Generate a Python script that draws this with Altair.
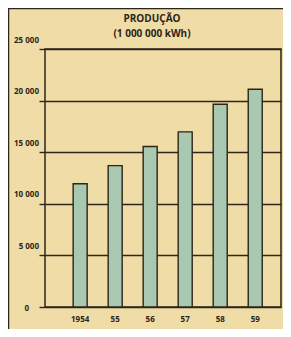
import altair as alt
import pandas as pd

years = ["1954", "55", "56", "57", "58", "59"]
production = [11950, 13700, 15550, 16970, 19650, 21100]
tick_values = [5000, 10000, 15000, 20000, 25000]
tick_texts = ["5 000", "10 000", "15 000", "20 000", "25 000"]
title_lines = ["PRODUÇÃO", "(1 000 000  kWh)"]

BG = "#f0dca6"
INK = "#2b2619"
BAR = "#a8c8b2"
FONT = "Open Sans"

df = pd.DataFrame({"ano": years, "valor": production})
ticks = pd.DataFrame({"v": tick_values, "t": tick_texts})

W, H = 236, 258

y_scale = alt.Scale(domain=[0, 25000], nice=False)
x_scale = alt.Scale(paddingInner=0.6, paddingOuter=0.67, align=0.6)

bars = alt.Chart(df).mark_bar(color=BAR, stroke=INK, strokeWidth=1.4).encode(
    x=alt.X("ano:N", sort=years, scale=x_scale,
            axis=alt.Axis(title=None, labelAngle=0, domain=False, ticks=False,
                          labelPadding=8, labelFont=FONT, labelFontWeight="bold",
                          labelFontSize=8, labelColor=INK)),
    y=alt.Y("valor:Q", scale=y_scale,
            axis=alt.Axis(title=None, values=[0] + tick_values, labels=False,
                          domain=False, tickSize=6, tickColor=INK, tickWidth=1.4,
                          grid=True, gridColor=INK, gridWidth=1.4, gridOpacity=1)),
)

ylab = alt.Chart(ticks).mark_text(align="right", baseline="middle", dy=-8.5,
                                  font=FONT, fontWeight="bold", fontSize=8,
                                  color=INK).encode(
    x=alt.value(-6), y=alt.Y("v:Q", scale=y_scale), text="t:N")

zero = alt.Chart(pd.DataFrame({"t": ["0"]})).mark_text(
    align="right", baseline="middle", font=FONT, fontWeight="bold", fontSize=8,
    color=INK).encode(x=alt.value(-16), y=alt.value(H + 2), text="t:N")

t1 = alt.Chart(pd.DataFrame({"t": [title_lines[0]]})).mark_text(
    align="center", baseline="middle", font=FONT, fontWeight="bold", fontSize=10,
    color=INK).encode(x=alt.value(107), y=alt.value(-30), text="t:N")
t2 = alt.Chart(pd.DataFrame({"t": [title_lines[1]]})).mark_text(
    align="center", baseline="middle", font=FONT, fontWeight="bold", fontSize=10,
    color=INK).encode(x=alt.value(107), y=alt.value(-15), text="t:N")

frame_top = alt.Chart(pd.DataFrame({"a": [0]})).mark_rule(color=INK, strokeWidth=1.5).encode(
    x=alt.value(-37), x2=alt.value(W + 10), y=alt.value(-40.5))
frame_left = alt.Chart(pd.DataFrame({"a": [0]})).mark_rule(color=INK, strokeWidth=1.5).encode(
    x=alt.value(-36.5), y=alt.value(-41), y2=alt.value(H + 40))

chart = alt.layer(bars, ylab, zero, t1, t2, frame_top, frame_left).properties(
    width=W, height=H,
    autosize=alt.AutoSizeParams(type="none"),
    padding={"left": 37, "top": 41, "right": 2, "bottom": 22},
    background=BG,
).configure_view(stroke=INK, strokeWidth=1.5)

chart.save("out.html", embed_options={"renderer": "svg", "actions": False})
